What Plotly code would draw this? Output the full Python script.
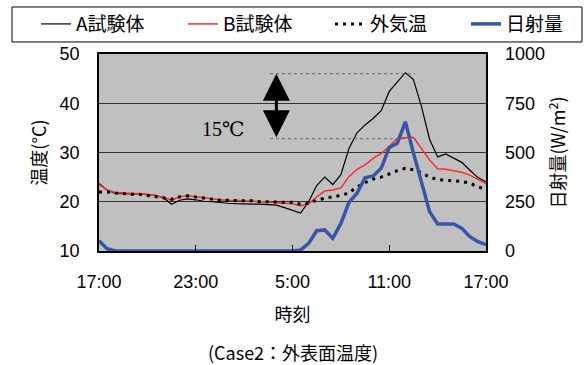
import plotly.graph_objects as go

# half-hourly time steps, hours since 17:00
hours = [i * 0.5 for i in range(49)]
tick_vals = [0, 6, 12, 18, 24]
tick_text = ["17:00", "23:00", "5:00", "11:00", "17:00"]

temp_A = [23.7, 22.4, 21.7, 21.6, 21.6, 21.6, 21.5, 21.3, 20.8, 19.5,
          20.3, 20.6, 20.4, 20.1, 20.0, 19.8, 19.7, 19.6, 19.5, 19.5,
          19.5, 19.4, 19.3, 18.8, 18.2, 17.7, 20.0, 23.3, 25.0, 23.5,
          25.5, 30.8, 34.0, 35.6, 36.9, 38.5, 42.4, 44.4, 46.2, 44.8,
          39.3, 32.7, 29.1, 29.7, 28.9, 28.0, 26.4, 24.9, 24.0]
temp_B = [23.5, 22.4, 21.9, 21.8, 21.7, 21.7, 21.5, 21.2, 20.9, 20.3,
          21.0, 21.2, 21.0, 20.7, 20.5, 20.4, 20.3, 20.3, 20.2, 20.1,
          20.0, 19.9, 19.8, 19.7, 19.6, 19.2, 19.6, 21.0, 22.2, 22.4,
          22.8, 25.1, 26.6, 27.5, 28.8, 29.8, 31.2, 32.9, 33.0, 33.1,
          30.8, 28.5, 26.7, 26.6, 26.3, 26.0, 25.4, 24.5, 23.7]
temp_out = [22.0, 22.0, 21.8, 21.6, 21.5, 21.5, 21.3, 21.0, 20.8, 20.5,
            21.0, 21.2, 21.0, 20.7, 20.5, 20.3, 20.3, 20.2, 20.2, 20.2,
            20.0, 20.0, 19.9, 19.9, 19.9, 19.5, 19.7, 20.3, 20.7, 21.0,
            21.3, 21.8, 23.0, 23.9, 24.6, 25.0, 25.7, 26.3, 26.8, 26.5,
            25.9, 25.0, 24.5, 24.4, 24.2, 24.1, 23.8, 23.0, 22.6]
solar = [52, 12, 0, 0, 0, 0, 0, 0, 0, 0,
         0, 0, 0, 0, 0, 0, 0, 0, 0, 0,
         0, 0, 0, 0, 0, 5, 39, 103, 107, 64,
         140, 247, 293, 372, 381, 420, 526, 547, 656, 498,
         345, 200, 137, 137, 137, 115, 73, 47, 33]

peak_A = 46.0
peak_B = 32.8

JP = "Noto Sans CJK JP"
SANS = "Liberation Sans, Arial, sans-serif"

fig = go.Figure()
fig.add_trace(go.Scatter(x=hours, y=temp_A, name="A試験体", mode="lines",
                         legend="legend", line=dict(color="black", width=1.2)))
fig.add_trace(go.Scatter(x=hours, y=temp_B, name="B試験体", mode="lines",
                         legend="legend", line=dict(color="#ff2a2a", width=1.5)))
fig.add_trace(go.Scatter(x=hours, y=temp_out, name="外気温", mode="lines",
                         legend="legend2",
                         line=dict(color="black", width=3, dash="3px,5px")))
fig.add_trace(go.Scatter(x=hours, y=solar, name="日射量", mode="lines",
                         legend="legend2", yaxis="y2",
                         line=dict(color="#3a55a8", width=3.5)))

# legend frame around both legend groups
fig.add_shape(type="rect", xref="paper", yref="paper",
              x0=-0.2248, x1=1.248, y0=1.061, y1=1.2386,
              line=dict(color="black", width=1), fillcolor="rgba(0,0,0,0)")

# 15℃ difference marker
for yv in (peak_A, peak_B):
    fig.add_shape(type="line", x0=10.6, x1=19.6, y0=yv, y1=yv, xref="x", yref="y",
                  line=dict(color="#666666", width=1, dash="dot"))
fig.add_annotation(x=11.0, y=peak_A, ax=11.0, ay=peak_B, xref="x", yref="y",
                   axref="x", ayref="y", text="", showarrow=True,
                   arrowside="end+start", arrowhead=2, arrowsize=1.8,
                   arrowwidth=3, arrowcolor="black")
fig.add_annotation(x=7.7, y=34.8, xref="x", yref="y", text="15℃", showarrow=False,
                   font=dict(family="Liberation Serif, DejaVu Serif, serif", size=20,
                             color="black"))
fig.add_annotation(x=0.5, y=-0.59, xref="paper", yref="paper",
                   text="(Case2：外表面温度)", showarrow=False,
                   font=dict(family=JP, size=18, color="black"))

legend_common = dict(orientation="h", xanchor="left", yanchor="middle", y=1.152,
                     entrywidthmode="pixels", borderwidth=0,
                     bgcolor="rgba(0,0,0,0)", font=dict(family=JP, size=19))

fig.update_layout(
    width=586, height=365,
    margin=dict(l=99, r=100, t=54, b=114, autoexpand=False),
    paper_bgcolor="white", plot_bgcolor="#c0c0c0",
    font=dict(family=SANS, size=18, color="black"),
    showlegend=True,
    legend=dict(legend_common, x=(36 - 99) / 387, entrywidth=102),
    legend2=dict(legend_common, x=(330 - 99) / 387, entrywidth=91),
    xaxis=dict(range=[0, 24], tickvals=tick_vals, ticktext=tick_text,
               showgrid=False, zeroline=False, ticks="inside", ticklen=6,
               tickcolor="black", showline=True, linecolor="black", linewidth=1.5,
               mirror=True, ticklabelstandoff=14, automargin=False,
               title=dict(text="時刻", font=dict(family=JP, size=18), standoff=17)),
    yaxis=dict(range=[10, 50], dtick=10, showgrid=True, gridcolor="#333333",
               gridwidth=1, zeroline=False, showline=True, linecolor="black",
               linewidth=1.5, mirror=True, ticks="", ticklabelstandoff=14,
               automargin=False,
               title=dict(text="温度(°C)", font=dict(family=JP, size=18), standoff=8)),
    yaxis2=dict(range=[0, 1000], dtick=250, overlaying="y", side="right",
                showgrid=False, zeroline=False, ticks="", ticklabelstandoff=18,
                automargin=False,
                title=dict(text="日射量(W/m<sup>2</sup>)", font=dict(family=JP, size=18),
                           standoff=8)),
)

fig.write_html("out.html", config={"displayModeBar": False},
               post_script="document.body.style.margin='0';")
